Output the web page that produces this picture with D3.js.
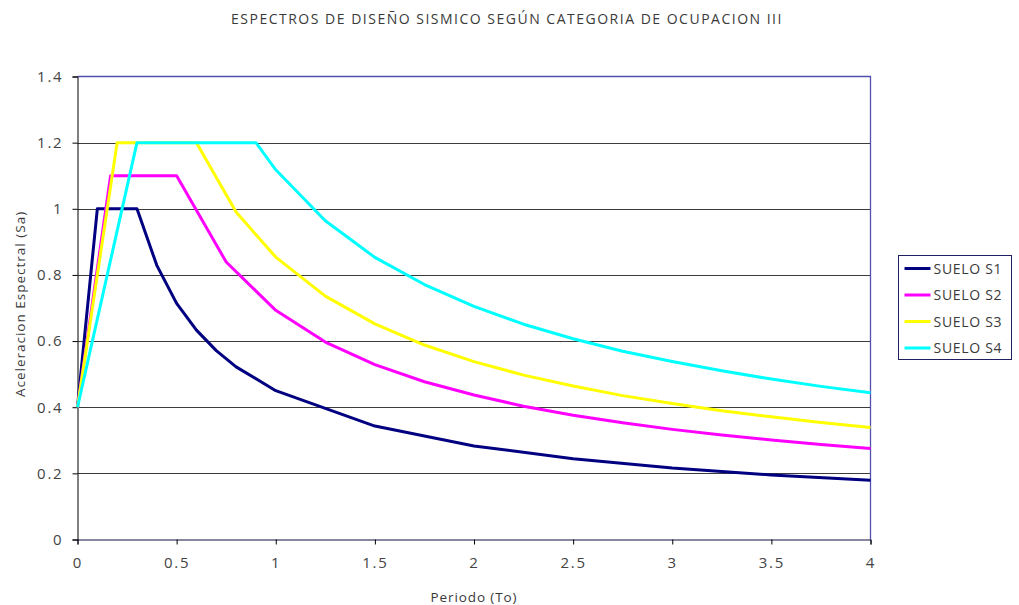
<!DOCTYPE html>
<html>
<head>
<meta charset="utf-8">
<script src="https://cdn.jsdelivr.net/npm/d3@7"></script>
<style>
  body { margin: 0; background: #fff; }
  svg { display: block; font-family: "Open Sans", "DejaVu Sans", sans-serif; }
</style>
</head>
<body>
<svg id="chart" width="1019" height="605"></svg>
<script>
// Spectral acceleration Sa vs period T for each soil type
const seriesNames = ["SUELO S1", "SUELO S2", "SUELO S3", "SUELO S4"];
const seriesColors = ["#000080", "#ff00ff", "#ffff00", "#00ffff"];

const periodS1 = [0, 0.1, 0.3, 0.4, 0.5, 0.6, 0.7, 0.8, 1.0, 1.5, 2.0, 2.5, 3.0, 3.5, 4.0];
const saS1     = [0.4, 1.0, 1.0, 0.829, 0.714, 0.633, 0.571, 0.522, 0.45, 0.343, 0.283, 0.244, 0.216, 0.195, 0.179];

const periodS2 = [0, 0.167, 0.5, 0.75, 1.0, 1.25, 1.5, 1.75, 2.0, 2.25, 2.5, 2.75, 3.0, 3.25, 3.5, 3.75, 4.0];
const saS2     = [0.4, 1.1, 1.1, 0.839, 0.693, 0.597, 0.529, 0.477, 0.437, 0.403, 0.376, 0.353, 0.333, 0.316, 0.301, 0.287, 0.275];

const periodS3 = [0, 0.2, 0.6, 0.8, 1.0, 1.25, 1.5, 1.75, 2.0, 2.25, 2.5, 2.75, 3.0, 3.25, 3.5, 3.75, 4.0];
const saS3     = [0.4, 1.2, 1.2, 0.99, 0.854, 0.736, 0.652, 0.588, 0.538, 0.497, 0.464, 0.435, 0.411, 0.389, 0.371, 0.354, 0.339];

const periodS4 = [0, 0.3, 0.9, 1.0, 1.25, 1.5, 1.75, 2.0, 2.25, 2.5, 2.75, 3.0, 3.25, 3.5, 3.75, 4.0];
const saS4     = [0.4, 1.2, 1.2, 1.118, 0.964, 0.853, 0.771, 0.705, 0.651, 0.607, 0.569, 0.538, 0.51, 0.485, 0.463, 0.444];

const xTicks = [0, 0.5, 1, 1.5, 2, 2.5, 3, 3.5, 4];
const yTicks = [0, 0.2, 0.4, 0.6, 0.8, 1, 1.2, 1.4];

const seriesT = [periodS1, periodS2, periodS3, periodS4];
const seriesSa = [saS1, saS2, saS3, saS4];

const svg = d3.select("#chart");
const plot = { left: 77.5, right: 870.5, top: 76.5, bottom: 539.5 };

const x = d3.scaleLinear().domain([0, 4]).range([plot.left, plot.right]);
const y = d3.scaleLinear().domain([0, 1.4]).range([plot.bottom, plot.top]);

const textColor = "#3a3a3a";

// Title
svg.append("text")
  .attr("x", 507).attr("y", 24)
  .attr("text-anchor", "middle")
  .attr("font-size", 14).attr("letter-spacing", 1.5)
  .attr("fill", textColor)
  .text("ESPECTROS DE DISEÑO SISMICO SEGÚN CATEGORIA DE OCUPACION III");

// Horizontal gridlines
svg.append("g")
  .selectAll("line")
  .data(yTicks.filter(v => v > 0 && v < 1.4))
  .join("line")
  .attr("x1", plot.left).attr("x2", plot.right)
  .attr("y1", d => Math.round(y(d)) + 0.5).attr("y2", d => Math.round(y(d)) + 0.5)
  .attr("stroke", "#3c3c3c").attr("stroke-width", 1);

// Plot frame: top and right edges
svg.append("path")
  .attr("d", `M${plot.left},${plot.top}H${plot.right}V${plot.bottom}`)
  .attr("fill", "none").attr("stroke", "#5050b0").attr("stroke-width", 1.3);

// Axes
const fmt = d => d === 0 ? "0" : String(d);
const yAxis = d3.axisLeft(y).tickValues(yTicks).tickSize(5).tickPadding(9).tickFormat(fmt);
const xAxis = d3.axisBottom(x).tickValues(xTicks).tickSize(5).tickPadding(13).tickFormat(fmt);

const gy = svg.append("g").attr("transform", `translate(${plot.left},0)`).call(yAxis);
const gx = svg.append("g").attr("transform", `translate(0,${plot.bottom})`).call(xAxis);
[gx, gy].forEach(g => {
  g.select(".domain").attr("stroke", "#000");
  g.selectAll(".tick line").attr("stroke", "#000");
  g.selectAll(".tick text")
    .attr("font-size", 15).attr("letter-spacing", 1.8)
    .attr("fill", "#444")
    .attr("font-family", "'Open Sans', 'DejaVu Sans', sans-serif");
});
gx.select(".domain").attr("stroke", "#101040");

// Axis titles
svg.append("text")
  .attr("x", 474).attr("y", 602)
  .attr("text-anchor", "middle")
  .attr("font-size", 13.5).attr("letter-spacing", 0.9)
  .attr("fill", textColor)
  .text("Periodo (To)");

svg.append("text")
  .attr("transform", "translate(25,304) rotate(-90)")
  .attr("text-anchor", "middle")
  .attr("font-size", 13.5).attr("letter-spacing", 1)
  .attr("fill", textColor)
  .text("Aceleracion Espectral (Sa)");

// Series lines
const line = d3.line().x(d => x(d[0])).y(d => y(d[1]));
const lines = svg.append("g");
seriesNames.forEach((name, i) => {
  const pts = seriesT[i].map((t, j) => [t, seriesSa[i][j]]);
  lines.append("path")
    .datum(pts)
    .attr("d", line)
    .attr("fill", "none")
    .attr("stroke", seriesColors[i])
    .attr("stroke-width", 3)
    .attr("stroke-linejoin", "round");
});

// Legend
const legend = svg.append("g").attr("transform", "translate(898.5,255.5)");
legend.append("rect")
  .attr("width", 113).attr("height", 104)
  .attr("fill", "#fff").attr("stroke", "#202060").attr("stroke-width", 1);
seriesNames.forEach((name, i) => {
  const yy = 13 + i * 26.5;
  legend.append("line")
    .attr("x1", 6).attr("x2", 32).attr("y1", yy).attr("y2", yy)
    .attr("stroke", seriesColors[i]).attr("stroke-width", 3);
  legend.append("text")
    .attr("x", 35).attr("y", yy + 5)
    .attr("font-size", 14).attr("letter-spacing", 0.7)
    .attr("fill", textColor)
    .text(name);
});
</script>
</body>
</html>
